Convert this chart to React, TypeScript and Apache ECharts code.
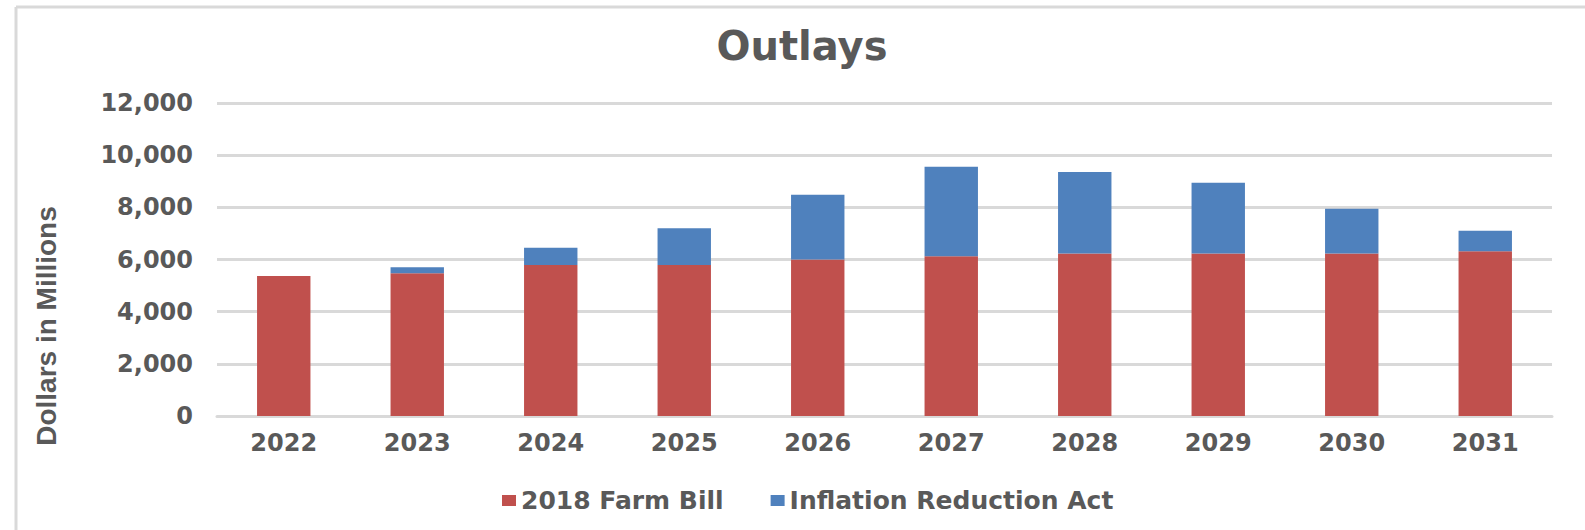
import React, { useEffect, useRef } from "react";
import * as echarts from "echarts";

const years = ["2022", "2023", "2024", "2025", "2026", "2027", "2028", "2029", "2030", "2031"];
const farmBill = [5370, 5470, 5790, 5790, 6000, 6120, 6230, 6230, 6230, 6320];
const inflationReduction = [0, 230, 660, 1410, 2480, 3440, 3120, 2710, 1720, 780];
const yTicks = { min: 0, max: 12000, interval: 2000 };

const TEXT = "#595959";
const GRID = "#d9d9d9";
const WIDE = "'DejaVu Sans', sans-serif";
const ARIAL = "'Liberation Sans', Arial, sans-serif";

export default function App() {
  const ref = useRef<HTMLDivElement>(null);
  useEffect(() => {
    if (!ref.current) return;
    const chart = echarts.init(ref.current, null, { renderer: "svg" });
    chart.setOption({
      animation: false,
      backgroundColor: "#ffffff",
      title: {
        text: "Outlays",
        left: 797,
        top: 21,
        textAlign: "center",
        textStyle: { fontFamily: WIDE, fontWeight: "bold", fontSize: 40, color: TEXT },
      },
      legend: {
        left: 497,
        top: 483,
        itemWidth: 14,
        itemHeight: 11,
        itemGap: 47,
        icon: "rect",
        textStyle: { fontFamily: WIDE, fontWeight: "bold", fontSize: 25, color: TEXT },
        data: ["2018 Farm Bill", "Inflation Reduction Act"],
      },
      grid: { left: 217, right: 33, top: 103, bottom: 114, containLabel: false },
      xAxis: {
        type: "category",
        data: years,
        axisLine: { lineStyle: { color: GRID, width: 3 } },
        axisTick: { show: false },
        axisLabel: { fontFamily: WIDE, fontWeight: "bold", fontSize: 24, color: TEXT, margin: 15 },
      },
      yAxis: {
        type: "value",
        min: yTicks.min,
        max: yTicks.max,
        interval: yTicks.interval,
        axisLine: { show: false },
        axisTick: { show: false },
        splitLine: { lineStyle: { color: GRID, width: 3 } },
        axisLabel: {
          fontFamily: WIDE,
          fontWeight: "bold",
          fontSize: 24,
          color: TEXT,
          margin: 24,
          formatter: (v: number) => v.toLocaleString("en-US"),
        },
      },
      series: [
        {
          name: "2018 Farm Bill",
          type: "bar",
          stack: "total",
          barWidth: "40%",
          itemStyle: { color: "#C0504D" },
          data: farmBill,
        },
        {
          name: "Inflation Reduction Act",
          type: "bar",
          stack: "total",
          barWidth: "40%",
          itemStyle: { color: "#4F81BD" },
          data: inflationReduction,
        },
      ],
      graphic: [
        {
          type: "line",
          shape: { x1: 16, y1: 7, x2: 1600, y2: 7 },
          style: { stroke: GRID, lineWidth: 3 },
          silent: true,
        },
        {
          type: "line",
          shape: { x1: 16, y1: 7, x2: 16, y2: 540 },
          style: { stroke: GRID, lineWidth: 3 },
          silent: true,
        },
        {
          type: "text",
          x: 46,
          y: 326,
          rotation: Math.PI / 2,
          style: {
            text: "Dollars in Millions",
            fontFamily: ARIAL,
            fontWeight: "bold",
            fontSize: 28,
            fill: TEXT,
            align: "center",
            verticalAlign: "middle",
          },
        },
      ],
    });
    return () => chart.dispose();
  }, []);
  return (
    <div
      ref={ref}
      style={{ position: "fixed", left: 0, top: 0, width: 1585, height: 530, background: "#fff" }}
    />
  );
}
